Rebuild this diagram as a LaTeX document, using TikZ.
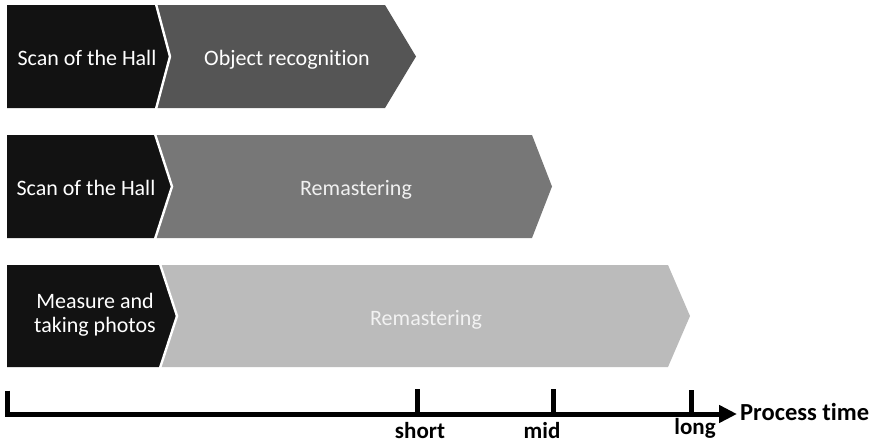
\documentclass[tikz,border=0pt]{standalone}
\usepackage{fontspec}
\setmainfont{Carlito}[Ligatures={NoCommon}]
\usetikzlibrary{arrows.meta}

\definecolor{stageblack}{HTML}{121212}
\definecolor{stagedark}{HTML}{555555}
\definecolor{stagemid}{HTML}{777777}
\definecolor{stagelight}{HTML}{BBBBBB}

\tikzset{
  boxtext/.style={text=white, font=\fontsize{22}{24}\selectfont, inner sep=0pt},
  seam/.style={draw=white, line width=2.4pt, line join=miter},
  axisline/.style={line width=5pt, line join=miter},
  tick/.style={line width=5pt},
  ticklabel/.style={font=\bfseries\fontsize{23}{25}\selectfont, inner sep=0pt, anchor=base},
}

\begin{document}
\begin{tikzpicture}[x=1pt, y=-1pt]
  \useasboundingbox (0,0) rectangle (877,445);

  % --- row 1: scan + object recognition
  \fill[stagedark] (156,5) -- (385,5) -- (416,56.5) -- (385,108) -- (156,108) -- (170,56.5) -- cycle;
  \fill[stageblack] (7,5) -- (156,5) -- (170,56.5) -- (156,108) -- (7,108) -- cycle;
  \draw[seam] (156,4) -- (170,56.5) -- (156,109);
  \node[boxtext, anchor=base] (s1) at (87,65) {Scan of the Hall};
  \node[boxtext, anchor=base] (t1) at (287,65) {Object recognition};

  % --- row 2: scan + remastering
  \fill[stagemid] (155,135) -- (532,135) -- (552,186.5) -- (532,238) -- (155,238) -- (172,186.5) -- cycle;
  \fill[stageblack] (7,135) -- (155,135) -- (172,186.5) -- (155,238) -- (7,238) -- cycle;
  \draw[seam] (155,134) -- (172,186.5) -- (155,239);
  \node[boxtext, anchor=base] (s2) at (86,195) {Scan of the Hall};
  \node[boxtext, anchor=base, text=white!94!black] (t2) at (356,195) {Remastering};

  % --- row 3: measuring + remastering
  \fill[stagelight] (160,265) -- (668,265) -- (690,316) -- (668,367) -- (160,367) -- (177,316) -- cycle;
  \fill[stageblack] (7,265) -- (160,265) -- (177,316) -- (160,367) -- (7,367) -- cycle;
  \draw[seam] (160,264) -- (177,316) -- (160,368);
  \node[boxtext, align=center, anchor=center] (s3) at (95,315) {Measure and\\taking photos};
  \node[boxtext, anchor=base, text=white!95!black] (t3) at (426,325) {Remastering};

  % --- time axis
  \coordinate (top0) at (7,390.5);
  \coordinate (ax0) at (7,414);
  \coordinate (axend) at (737,414);
  \draw[axisline, -{Triangle[length=18pt, width=17pt]}] (top0) -- (ax0) -- (axend);

  \coordinate (shortb) at (417,414);
  \coordinate (shortt) at (417,389);
  \coordinate (midb) at (553,414);
  \coordinate (midt) at (553,389);
  \coordinate (longb) at (691,414);
  \coordinate (longt) at (691,390);
  \draw[tick] (shortb) -- (shortt);
  \draw[tick] (midb) -- (midt);
  \draw[tick] (longb) -- (longt);

  \node[ticklabel] (short) at (420,438) {short};
  \node[ticklabel] (mid) at (542,438) {mid};
  \node[ticklabel] (long) at (695,434) {long};
  \node[font=\bfseries\fontsize{24.5}{26}\selectfont, inner sep=0pt, anchor=base west] (ptime) at (740,420) {Process time};
\end{tikzpicture}
\end{document}
